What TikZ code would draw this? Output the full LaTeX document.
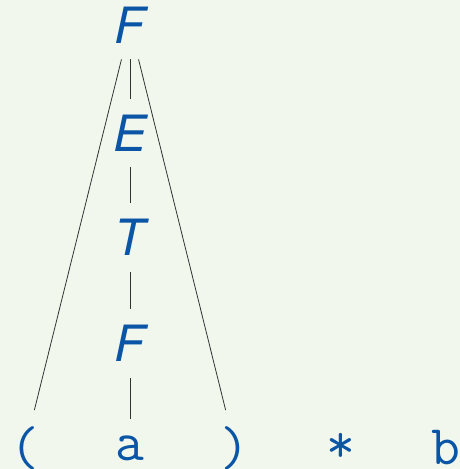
\documentclass[tikz,border=0pt]{standalone}
\usepackage{fontspec}
\setsansfont{TeX Gyre Heros}
\definecolor{bgcol}{RGB}{241,247,237}
\definecolor{symcol}{RGB}{10,85,165}
\tikzset{
  nonterm/.style={inner sep=16pt,text=symcol,font=\fontsize{50}{60}\selectfont\sffamily\itshape},
  term/.style={inner sep=16pt,text=symcol,font=\fontsize{56}{66}\selectfont\ttfamily},
  branch/.style={line width=0.8pt,black!80}
}
\begin{document}
\begin{tikzpicture}[x=1pt,y=-1pt]
\useasboundingbox (0,0) rectangle (460,469);
\fill[bgcol] (0,0) rectangle (460,469);
% the chain of nonterminals
\node[nonterm] (F1) at (130,25) {F};
\node[nonterm] (E) at (130,133) {E};
\node[nonterm] (T) at (130,237.5) {T};
\node[nonterm] (F2) at (130,343.5) {F};
% the input
\node[term] (lp) at (25,448) {(};
\node[term] (a) at (130,448) {a};
\node[term] (rp) at (235,448) {)};
\node[term] (star) at (341,448) {*};
\node[term] (b) at (446,448) {b};
\draw[branch] (F1) -- (lp);
\draw[branch] (F1) -- (E);
\draw[branch] (F1) -- (rp);
\draw[branch] (E) -- (T);
\draw[branch] (T) -- (F2);
\draw[branch] (F2) -- (a);
\end{tikzpicture}
\end{document}
